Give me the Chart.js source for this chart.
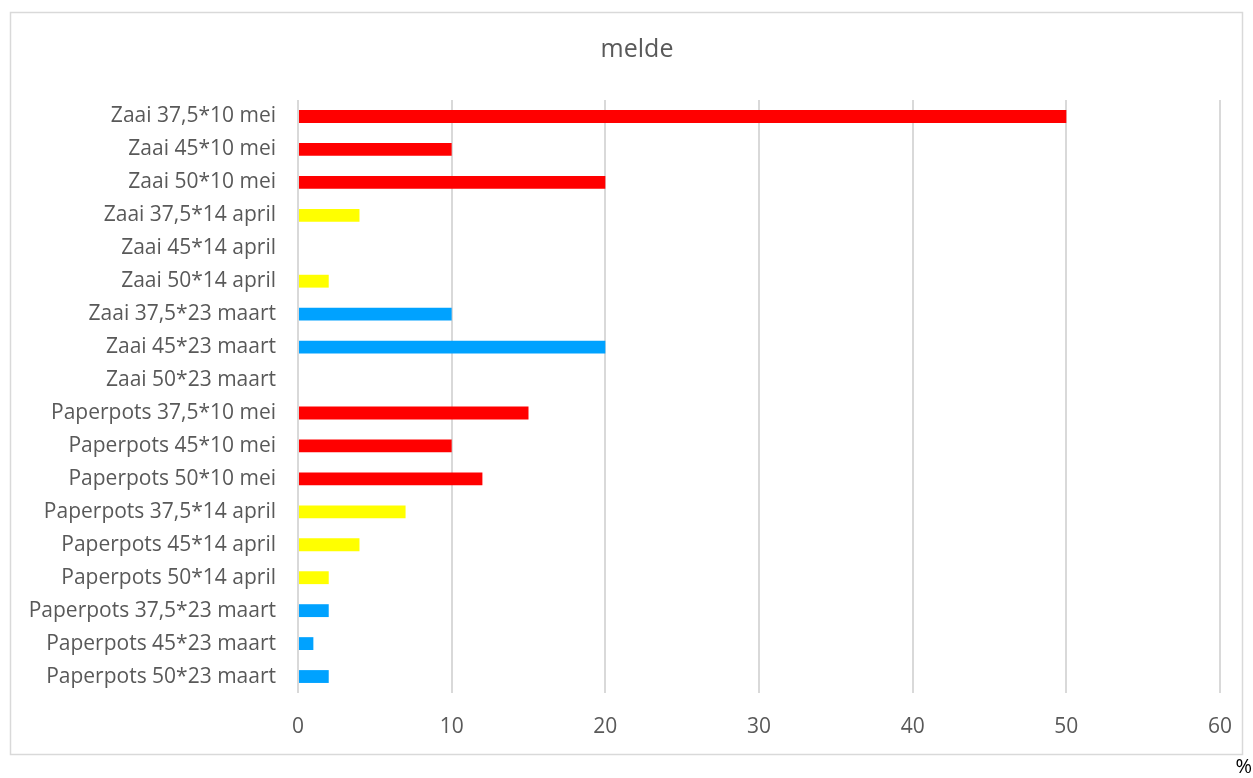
<!DOCTYPE html>
<html>
<head>
<meta charset="utf-8">
<script src="https://cdn.jsdelivr.net/npm/chart.js@4"></script>
<style>
    html, body { margin: 0; padding: 0; background: #fff; }
    #wrap { width: 1253px; height: 778px; }
</style>
</head>
<body>
<div id="wrap"><canvas id="meldeChart" width="1253" height="778"></canvas></div>
<script>
const categories = [
    'Zaai 37,5*10 mei', 'Zaai 45*10 mei', 'Zaai 50*10 mei',
    'Zaai 37,5*14 april', 'Zaai 45*14 april', 'Zaai 50*14 april',
    'Zaai 37,5*23 maart', 'Zaai 45*23 maart', 'Zaai 50*23 maart',
    'Paperpots 37,5*10 mei', 'Paperpots 45*10 mei', 'Paperpots 50*10 mei',
    'Paperpots 37,5*14 april', 'Paperpots 45*14 april', 'Paperpots 50*14 april',
    'Paperpots 37,5*23 maart', 'Paperpots 45*23 maart', 'Paperpots 50*23 maart'
];
const meldeValues = [50, 10, 20, 4, 0, 2, 10, 20, 0, 15, 10, 12, 7, 4, 2, 2, 1, 2];
const xTicks = [0, 10, 20, 30, 40, 50, 60];
const chartTitle = 'melde';
const unitLabel = '%';

// kleur per zaaidatum
function barColor(label) {
    if (label.includes('mei')) return '#FF0000';
    if (label.includes('april')) return '#FFFF00';
    return '#00A2FF';
}

const FONT = '"Open Sans", sans-serif';
const GREY = '#595959';

// kader, titel en eenheid
const framePlugin = {
    id: 'frame',
    beforeDraw(chart) {
        const ctx = chart.ctx;
        ctx.save();
        ctx.fillStyle = '#fff';
        ctx.fillRect(0, 0, chart.width, chart.height);
        ctx.strokeStyle = '#d9d9d9';
        ctx.lineWidth = 1.5;
        ctx.strokeRect(10.5, 12.5, 1232, 742);
        ctx.restore();
    },
    afterDraw(chart) {
        const ctx = chart.ctx;
        ctx.save();
        ctx.textBaseline = 'middle';
        ctx.fillStyle = GREY;
        ctx.font = '25px ' + FONT;
        ctx.textAlign = 'center';
        ctx.fillText(chartTitle, 637, 50);
        ctx.fillStyle = '#000';
        ctx.font = '20px ' + FONT;
        ctx.textAlign = 'right';
        ctx.fillText(unitLabel, 1252, 767);
        ctx.restore();
    }
};

new Chart(document.getElementById('meldeChart'), {
    type: 'bar',
    data: {
        labels: categories,
        datasets: [{
            label: chartTitle,
            data: meldeValues,
            backgroundColor: categories.map(barColor),
            borderWidth: 0,
            barPercentage: 0.39,
            categoryPercentage: 1
        }]
    },
    options: {
        indexAxis: 'y',
        responsive: false,
        animation: false,
        layout: { padding: { left: 0, right: 32, top: 100, bottom: 0 } },
        plugins: {
            legend: { display: false },
            tooltip: { enabled: false },
            title: { display: false }
        },
        scales: {
            x: {
                min: 0,
                max: 60,
                afterBuildTicks: scale => { scale.ticks = xTicks.map(v => ({ value: v })); },
                afterFit: scale => { scale.height = 85; },
                border: { display: false },
                grid: { color: '#d9d9d9', lineWidth: 2, drawTicks: false },
                ticks: { color: GREY, font: { family: FONT, size: 21 }, padding: 21 }
            },
            y: {
                afterFit: scale => { scale.width = 298; },
                border: { display: false },
                grid: { display: false, drawTicks: false },
                ticks: { color: GREY, font: { family: FONT, size: 21 }, padding: 22 }
            }
        }
    },
    plugins: [framePlugin]
});
</script>
</body>
</html>
